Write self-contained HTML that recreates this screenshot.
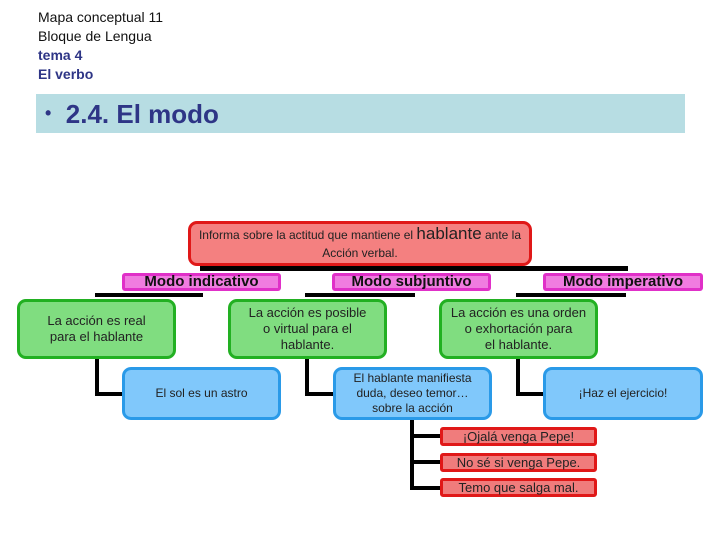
<!DOCTYPE html>
<html><head><meta charset="utf-8"><style>
body{margin:0;width:720px;height:540px;background:#fff;position:relative;overflow:hidden;font-family:"Liberation Sans",sans-serif}
.a{position:absolute;box-sizing:border-box}
.t{left:38px;font-size:14px;color:#111;line-height:18px}
.b{background:#000}
.box{display:flex;align-items:center;justify-content:center;text-align:center;border-radius:9px;font-size:13px;line-height:16px;color:#222}
.g{background:#80dd80;border:3px solid #22b022}
.bl{background:#80c8fb;border:3px solid #2a9ae8;font-size:12px;line-height:15px}
.m{background:#f07ce0;border:3px solid #e030c8;border-radius:3px;font-size:15px;font-weight:bold;color:#111}
.r{background:#f07c7c;border:3px solid #e01818;border-radius:3px;font-size:13px}
</style></head><body>
<div class="a t" style="top:8px">Mapa conceptual 11</div>
<div class="a t" style="top:27px">Bloque de Lengua</div>
<div class="a t" style="top:46px;font-weight:bold;color:#2e3586">tema 4</div>
<div class="a t" style="top:65px;font-weight:bold;color:#2e3586">El verbo</div>
<div class="a" style="left:36px;top:94px;width:649px;height:39px;background:#b7dde3"></div>
<div class="a" style="left:45px;top:96px;font-size:26px;font-weight:bold;color:#2e3586;line-height:34px"><span style="font-size:18px;vertical-align:4px">•</span>&nbsp; 2.4. El modo</div>

<!-- connectors -->
<div class="a b" style="left:200px;top:266px;width:428px;height:5px"></div>
<div class="a b" style="left:95px;top:293px;width:108px;height:4px"></div>
<div class="a b" style="left:305px;top:293px;width:110px;height:4px"></div>
<div class="a b" style="left:516px;top:293px;width:110px;height:4px"></div>
<div class="a b" style="left:95px;top:355px;width:4px;height:41px"></div>
<div class="a b" style="left:95px;top:392px;width:30px;height:4px"></div>
<div class="a b" style="left:305px;top:355px;width:4px;height:41px"></div>
<div class="a b" style="left:305px;top:392px;width:30px;height:4px"></div>
<div class="a b" style="left:516px;top:355px;width:4px;height:41px"></div>
<div class="a b" style="left:516px;top:392px;width:30px;height:4px"></div>
<div class="a b" style="left:410px;top:418px;width:4px;height:72px"></div>
<div class="a b" style="left:410px;top:434px;width:32px;height:4px"></div>
<div class="a b" style="left:410px;top:460px;width:32px;height:4px"></div>
<div class="a b" style="left:410px;top:486px;width:32px;height:4px"></div>

<div class="a box" style="left:188px;top:221px;width:344px;height:45px;background:#f48080;border:3px solid #e01818;font-size:12px;line-height:18px;color:#222">
<div>Informa sobre la actitud que mantiene el <b style="font-size:17px;font-weight:normal">hablante</b> ante la<br>Acción verbal.</div></div>

<div class="a box m" style="left:122px;top:273px;width:159px;height:18px">Modo indicativo</div>
<div class="a box m" style="left:332px;top:273px;width:159px;height:18px">Modo subjuntivo</div>
<div class="a box m" style="left:543px;top:273px;width:160px;height:18px">Modo imperativo</div>

<div class="a box g" style="left:17px;top:299px;width:159px;height:60px">La acción es real<br>para el hablante</div>
<div class="a box g" style="left:228px;top:299px;width:159px;height:60px">La acción es posible<br>o virtual para el<br>hablante.</div>
<div class="a box g" style="left:439px;top:299px;width:159px;height:60px">La acción es una orden<br>o exhortación para<br>el hablante.</div>

<div class="a box bl" style="left:122px;top:367px;width:159px;height:53px">El sol es un astro</div>
<div class="a box bl" style="left:333px;top:367px;width:159px;height:53px">El hablante manifiesta<br>duda, deseo temor…<br>sobre la acción</div>
<div class="a box bl" style="left:543px;top:367px;width:160px;height:53px">¡Haz el ejercicio!</div>

<div class="a box r" style="left:440px;top:427px;width:157px;height:19px">¡Ojalá venga Pepe!</div>
<div class="a box r" style="left:440px;top:453px;width:157px;height:19px">No sé si venga Pepe.</div>
<div class="a box r" style="left:440px;top:478px;width:157px;height:19px">Temo que salga mal.</div>
</body></html>
